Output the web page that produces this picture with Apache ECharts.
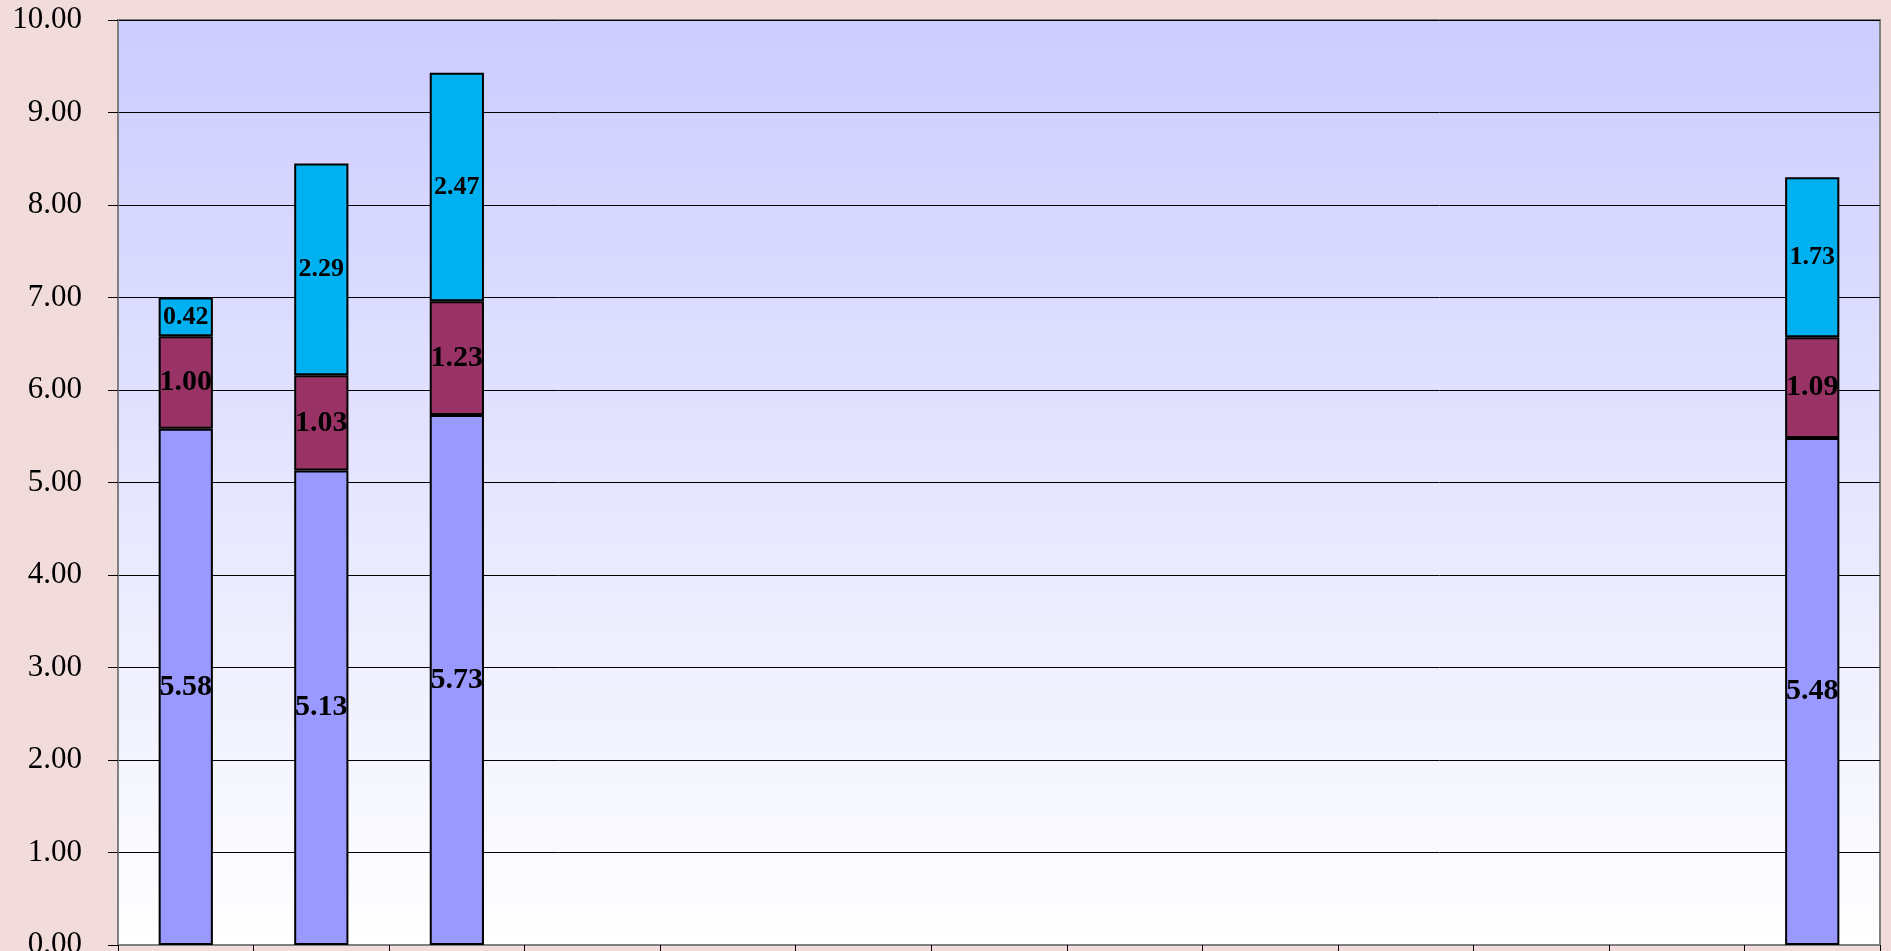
<!DOCTYPE html>
<html>
<head>
<meta charset="utf-8">
<title>stacked bars</title>
<script src="https://cdn.jsdelivr.net/npm/echarts@6/dist/echarts.min.js"></script>
<style>
	html, body { margin: 0; padding: 0; background: #F2DCDB; }
	#bar-chart { width: 1891px; height: 951px; }
</style>
</head>
<body>
<div id="bar-chart"></div>
<script>
// 13 slots along the x axis, only four of them carry data
var categories = ['1', '2', '3', '4', '5', '6', '7', '8', '9', '10', '11', '12', '13'];
var seriesA = [5.58, 5.13, 5.73, null, null, null, null, null, null, null, null, null, 5.48];
var seriesB = [1.00, 1.03, 1.23, null, null, null, null, null, null, null, null, null, 1.09];
var seriesC = [0.42, 2.29, 2.47, null, null, null, null, null, null, null, null, null, 1.73];
var yTicks = [0, 10, 1]; // min, max, interval

function barChart(){//堆叠柱状图
	var chart = echarts.init(document.getElementById('bar-chart'));
	var serif = '"Liberation Serif", "Times New Roman", serif';

	function makeSeries(name, data, color, fontSize){
		return {
			name: name,
			type: 'bar',
			stack: 'total',
			barWidth: '40%',
			data: data,
			itemStyle: {
				color: color,
				borderColor: '#000',
				borderWidth: 2
			},
			label: {
				show: true,
				position: 'inside',
				formatter: function(p){ return p.value == null ? '' : p.value.toFixed(2); },
				color: '#000',
				fontFamily: serif,
				fontWeight: 'bold',
				fontSize: fontSize
			}
		};
	}

	var option = {
		backgroundColor: '#F2DCDB',
		animation: false,
		grid: {
			left: 118,
			right: 11,
			top: 20,
			bottom: 6,
			outerBoundsMode: 'none',
			containLabel: false,
			show: true,
			borderColor: '#808080',
			borderWidth: 2,
			backgroundColor: new echarts.graphic.LinearGradient(0, 0, 0, 1, [
				{offset: 0, color: '#CCCCFF'},
				{offset: 1, color: '#FFFFFF'}
			])
		},
		xAxis: {
			type: 'category',
			data: categories,
			boundaryGap: true,
			axisLine: { lineStyle: { color: '#808080', width: 2 } },
			axisTick: { show: true, length: 10, lineStyle: { color: '#000' } },
			axisLabel: { show: false }
		},
		yAxis: {
			type: 'value',
			min: yTicks[0],
			max: yTicks[1],
			interval: yTicks[2],
			axisLine: { show: true, lineStyle: { color: '#808080', width: 2 } },
			axisTick: { show: true, length: 10, lineStyle: { color: '#000' } },
			splitLine: { lineStyle: { color: '#000', width: 1 } },
			axisLabel: {
				margin: 36,
				color: '#000',
				fontFamily: serif,
				fontSize: 31,
				formatter: function(v){ return v.toFixed(2); }
			}
		},
		series: [
			makeSeries('A', seriesA, '#9999FF', 30),
			makeSeries('B', seriesB, '#993366', 30),
			makeSeries('C', seriesC, '#00B0F0', 26)
		]
	};
	chart.setOption(option);
}

window.onload = function(){
	barChart();
};
</script>
</body>
</html>
